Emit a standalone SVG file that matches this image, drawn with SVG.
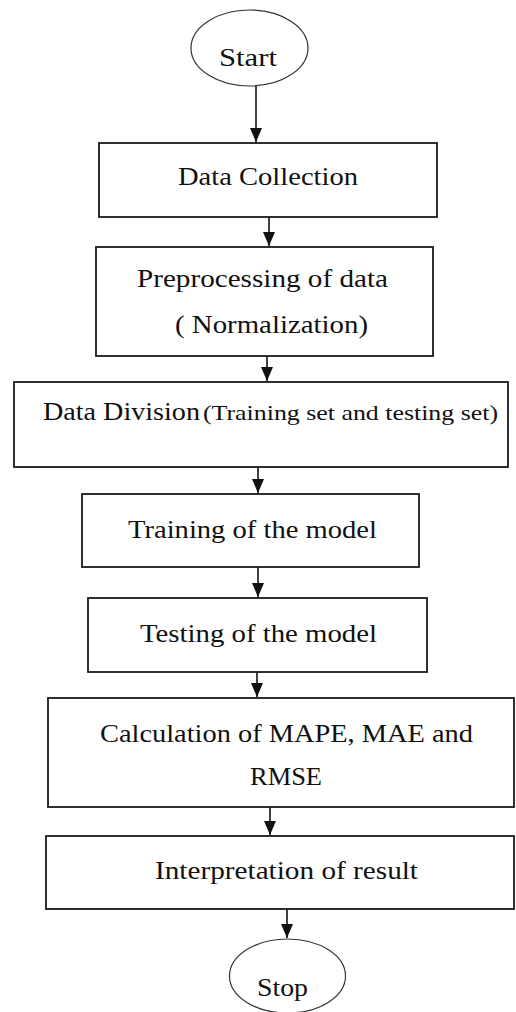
<svg xmlns="http://www.w3.org/2000/svg" width="516" height="1012" viewBox="0 0 516 1012">
<style>
.box{fill:#fff;stroke:#1a1a1a;stroke-width:1.8}
.term{fill:#fff;stroke:#333;stroke-width:1.2}
.t{font-family:"Liberation Serif","Times New Roman",serif;font-size:25px;fill:#111}
.s{font-family:"Liberation Serif","Times New Roman",serif;font-size:21px;fill:#111}
.c{stroke:#111;stroke-width:1.6;fill:none;marker-end:url(#ah)}
</style>
<defs>
<marker id="ah" markerWidth="14" markerHeight="12" refX="14" refY="6" orient="auto" markerUnits="userSpaceOnUse" viewBox="0 0 14 12">
<path d="M0,0 L14,6 L0,12 Z" fill="#111"/>
</marker>
</defs>
<rect width="516" height="1012" fill="#fff"/>
<g id="connectors">
<line class="c" x1="256" y1="86" x2="256" y2="142"/>
<line class="c" x1="269" y1="217" x2="269" y2="246"/>
<line class="c" x1="267" y1="356" x2="267" y2="381"/>
<line class="c" x1="258" y1="467" x2="258" y2="493"/>
<line class="c" x1="258" y1="567" x2="258" y2="597"/>
<line class="c" x1="257" y1="672" x2="257" y2="697"/>
<line class="c" x1="270" y1="807" x2="270" y2="835"/>
<line class="c" x1="287" y1="909" x2="287" y2="938"/>
</g>
<g id="start">
<ellipse class="term" cx="249.5" cy="48" rx="58.5" ry="38"/>
<text class="t" x="219" y="66" textLength="58" lengthAdjust="spacingAndGlyphs">Start</text>
</g>
<g id="data-collection">
<rect class="box" x="99" y="143" width="338" height="74"/>
<text class="t" x="178" y="185" textLength="180" lengthAdjust="spacingAndGlyphs">Data Collection</text>
</g>
<g id="preprocessing">
<rect class="box" x="96" y="247" width="337" height="109"/>
<text class="t" x="137" y="287" textLength="251" lengthAdjust="spacingAndGlyphs">Preprocessing of data</text>
<text class="t" x="175" y="333" textLength="193" lengthAdjust="spacingAndGlyphs">( Normalization)</text>
</g>
<g id="data-division">
<rect class="box" x="14" y="382" width="494" height="85"/>
<text class="t" x="43" y="420" textLength="157" lengthAdjust="spacingAndGlyphs">Data Division</text>
<text class="s" x="203" y="420" textLength="295" lengthAdjust="spacingAndGlyphs">(Training set and testing set)</text>
</g>
<g id="training">
<rect class="box" x="82" y="494" width="337" height="73"/>
<text class="t" x="128" y="538" textLength="249" lengthAdjust="spacingAndGlyphs">Training of the model</text>
</g>
<g id="testing">
<rect class="box" x="88" y="598" width="339" height="74"/>
<text class="t" x="140" y="642" textLength="237" lengthAdjust="spacingAndGlyphs">Testing of the model</text>
</g>
<g id="calculation">
<rect class="box" x="48" y="698" width="466" height="109"/>
<text class="t" x="100" y="742" textLength="373" lengthAdjust="spacingAndGlyphs">Calculation of MAPE, MAE and</text>
<text class="t" x="250" y="785" textLength="72" lengthAdjust="spacingAndGlyphs">RMSE</text>
</g>
<g id="interpretation">
<rect class="box" x="46" y="836" width="468" height="73"/>
<text class="t" x="155" y="879" textLength="263" lengthAdjust="spacingAndGlyphs">Interpretation of result</text>
</g>
<g id="stop">
<ellipse class="term" cx="287.5" cy="976" rx="58" ry="37"/>
<text class="t" x="257" y="996" textLength="51" lengthAdjust="spacingAndGlyphs">Stop</text>
</g>
</svg>
